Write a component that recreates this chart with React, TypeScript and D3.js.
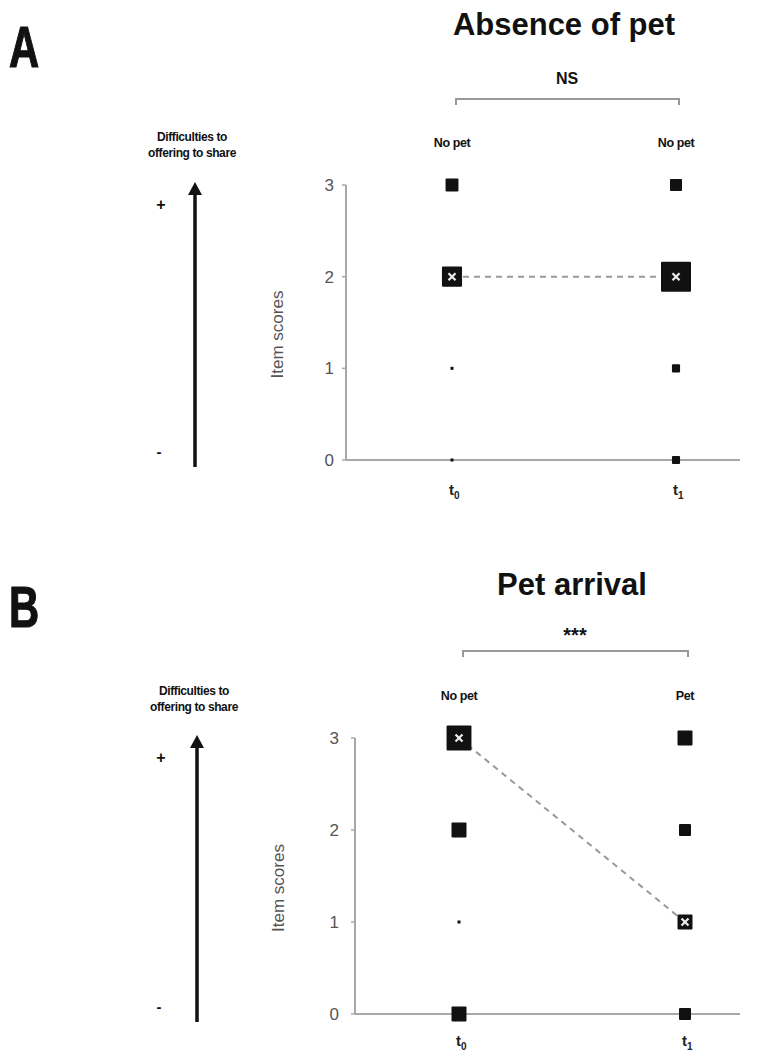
import React from "react";
import * as d3 from "d3";

// ---------- data ----------
const SCORES = [0, 1, 2, 3];
const TIME_SUBSCRIPTS = ["0", "1"];
const PANEL_LETTERS = ["A", "B"];
const PANEL_TITLES = ["Absence of pet", "Pet arrival"];
const SIGNIFICANCE = ["NS", "***"];
const CONDITIONS_A = ["No pet", "No pet"];
const CONDITIONS_B = ["No pet", "Pet"];
// relative frequency weights per score (index = score 0..3)
const WEIGHTS_A_T0 = [1, 1, 6.7, 4.3];
const WEIGHTS_A_T1 = [2.7, 2.7, 10, 4];
const WEIGHTS_B_T0 = [5, 1, 5, 8.3];
const WEIGHTS_B_T1 = [4, 5, 4, 5];
const MEDIANS_A = [2, 2];
const MEDIANS_B = [3, 1];
const ARROW_LABEL = ["Difficulties to", "offering to share"];
const Y_LABEL = "Item scores";

// ---------- layout ----------
const LAYOUT = [
  {
    letterY: 67, titleY: 35, sigY: 84, bracketY: 99, condY: 147,
    yTop: 185, yBottom: 460, axisX: 346, x0: 452, x1: 676,
    arrowX: 195, arrowTop: 182, arrowBottom: 467, textY: [141, 157],
    plusY: 210, minusY: 457, yLabelX: 283, tLabelY: 495, tickRight: 334,
  },
  {
    letterY: 627, titleY: 595, sigY: 642, bracketY: 651, condY: 700,
    yTop: 738, yBottom: 1014, axisX: 355, x0: 459, x1: 685,
    arrowX: 197, arrowTop: 735, arrowBottom: 1022, textY: [695, 711],
    plusY: 763, minusY: 1012, yLabelX: 284, tLabelY: 1046, tickRight: 339,
  },
];

const PANELS = [
  { weights: [WEIGHTS_A_T0, WEIGHTS_A_T1], medians: MEDIANS_A, conds: CONDITIONS_A },
  { weights: [WEIGHTS_B_T0, WEIGHTS_B_T1], medians: MEDIANS_B, conds: CONDITIONS_B },
];

const FONT = "'Liberation Sans', Arial, Helvetica, sans-serif";
const AXIS_GRAY = "#a8a8a8";

const sizeScale = d3.scaleLinear().domain([0, 10]).range([0, 30]);

function Panel({ idx }: { idx: number }) {
  const L = LAYOUT[idx];
  const P = PANELS[idx];
  const y = d3.scaleLinear().domain([0, 3]).range([L.yBottom, L.yTop]);
  const x = d3.scalePoint<string>().domain(TIME_SUBSCRIPTS).range([L.x0, L.x1]);
  const xRight = 740;
  const mid = (L.x0 + L.x1) / 2;
  const medLine = d3.line<[number, number]>()(
    P.medians.map((m, i) => [x(TIME_SUBSCRIPTS[i]) as number, y(m)] as [number, number])
  );

  return (
    <g>
      {/* panel letter */}
      <text
        transform={`translate(9,${L.letterY}) scale(0.72,1)`}
        fontFamily={FONT}
        fontWeight="bold"
        fontSize={58}
        fill="#111"
        stroke="#111"
        strokeWidth={1.2}
      >
        {PANEL_LETTERS[idx]}
      </text>
      {/* title */}
      <text x={mid} y={L.titleY} textAnchor="middle" fontFamily={FONT} fontWeight="bold" fontSize={31} fill="#111">
        {PANEL_TITLES[idx]}
      </text>
      {/* significance */}
      <text x={mid + 3} y={L.sigY} textAnchor="middle" fontFamily={FONT} fontWeight="bold"
        fontSize={idx === 0 ? 16 : 20} fill="#111">
        {SIGNIFICANCE[idx]}
      </text>
      <path
        d={`M${L.x0 + 4},${L.bracketY + 6}V${L.bracketY}H${L.x1 + 3}V${L.bracketY + 6}`}
        fill="none"
        stroke="#999"
        strokeWidth={2}
      />
      {/* condition labels */}
      {P.conds.map((c, i) => (
        <text key={i} x={x(TIME_SUBSCRIPTS[i])} y={L.condY} textAnchor="middle" fontFamily={FONT}
          fontWeight="bold" fontSize={12.5} letterSpacing={-0.4} fill="#111">
          {c}
        </text>
      ))}

      {/* left arrow */}
      {ARROW_LABEL.map((t, i) => (
        <text key={i} x={L.arrowX - 3} y={L.textY[i]} textAnchor="middle" fontFamily={FONT}
          fontWeight="bold" fontSize={12} letterSpacing={-0.4} fill="#111">
          {t}
        </text>
      ))}
      <line x1={L.arrowX} x2={L.arrowX} y1={L.arrowBottom} y2={L.arrowTop + 10} stroke="#111" strokeWidth={3.5} />
      <path
        d={`M${L.arrowX},${L.arrowTop}L${L.arrowX + 7},${L.arrowTop + 13}L${L.arrowX - 7},${L.arrowTop + 13}Z`}
        fill="#111"
      />
      <text x={161} y={L.plusY} textAnchor="middle" fontFamily={FONT} fontWeight="bold" fontSize={16} fill="#111">+</text>
      <text x={159} y={L.minusY} textAnchor="middle" fontFamily={FONT} fontWeight="bold" fontSize={15} fill="#111">-</text>

      {/* y label */}
      <text transform={`translate(${L.yLabelX},${(L.yTop + L.yBottom) / 2 + 12}) rotate(-90)`} textAnchor="middle"
        fontFamily={FONT} fontSize={17} fill="#555">
        {Y_LABEL}
      </text>

      {/* axes */}
      <line x1={L.axisX} x2={L.axisX} y1={y(3)} y2={y(0)} stroke={AXIS_GRAY} strokeWidth={2} />
      <line x1={L.axisX} x2={xRight} y1={y(0)} y2={y(0)} stroke={AXIS_GRAY} strokeWidth={2} />
      {SCORES.map((s) => (
        <g key={s}>
          <line x1={L.axisX - 4} x2={L.axisX} y1={y(s)} y2={y(s)} stroke={AXIS_GRAY} strokeWidth={1.5} />
          <text x={L.tickRight} y={y(s) + 6} textAnchor="end" fontFamily={FONT} fontSize={17} fill="#555">
            {s}
          </text>
        </g>
      ))}
      {TIME_SUBSCRIPTS.map((t) => (
        <text key={t} x={(x(t) as number) - 3} y={L.tLabelY} fontFamily={FONT} fontWeight="bold" fontSize={15} fill="#222">
          t<tspan dy={4} fontSize={10}>{t}</tspan>
        </text>
      ))}

      {/* median dashed line */}
      <path d={medLine || ""} fill="none" stroke="#999" strokeWidth={2} strokeDasharray="6 5" />

      {/* markers */}
      {P.weights.map((ws, ti) =>
        ws.map((w, si) => {
          const cx = x(TIME_SUBSCRIPTS[ti]) as number;
          const cy = y(SCORES[si]);
          const side = Math.max(3, sizeScale(w));
          const isMed = P.medians[ti] === SCORES[si];
          return (
            <g key={`${ti}-${si}`}>
              <rect x={cx - side / 2} y={cy - side / 2} width={side} height={side} fill="#111" rx={side > 6 ? 1 : 0} />
              {isMed && (
                <path
                  d={`M${cx - 3.5},${cy - 3.5}L${cx + 3.5},${cy + 3.5}M${cx + 3.5},${cy - 3.5}L${cx - 3.5},${cy + 3.5}`}
                  stroke="#eee"
                  strokeWidth={2.2}
                />
              )}
            </g>
          );
        })
      )}
    </g>
  );
}

export default function App() {
  return (
    <svg
      width={769}
      height={1060}
      viewBox="0 0 769 1060"
      style={{ position: "absolute", left: 0, top: 0, background: "#fff" }}
    >
      <rect width={769} height={1060} fill="#fff" />
      <Panel idx={0} />
      <Panel idx={1} />
    </svg>
  );
}
